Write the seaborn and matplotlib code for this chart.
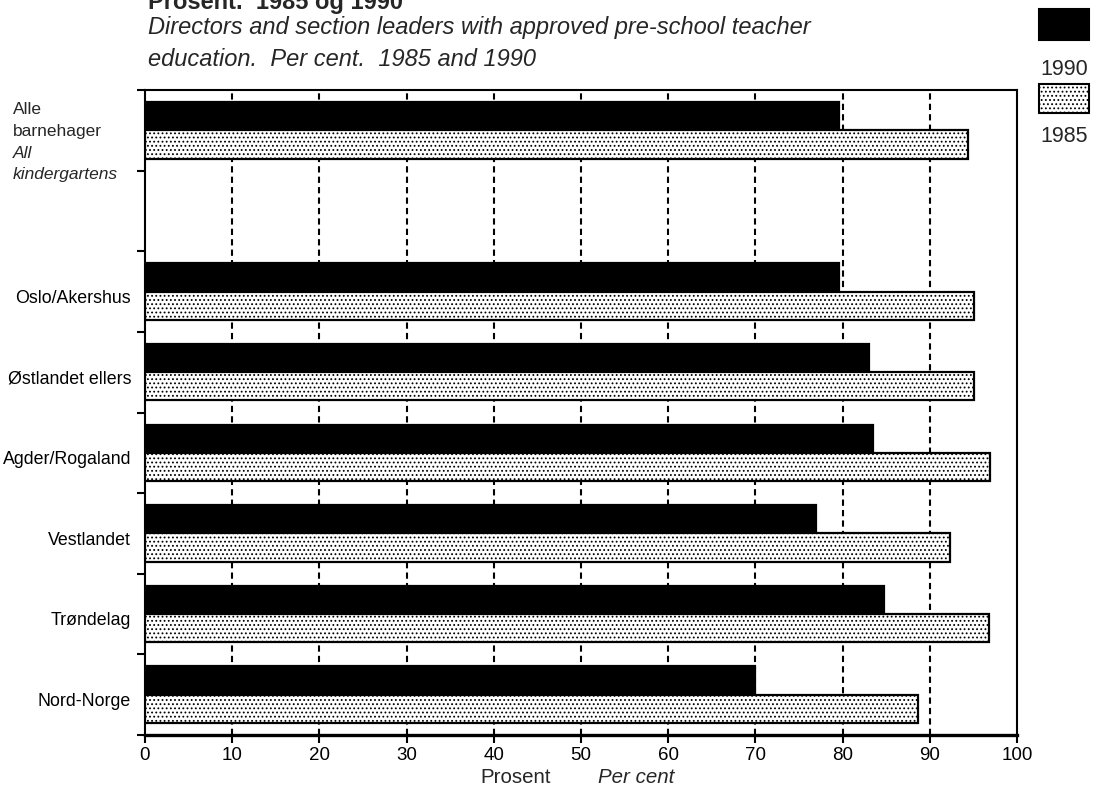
import matplotlib
matplotlib.use('Agg')
import matplotlib.pyplot as plt
from matplotlib import font_manager
from matplotlib.patches import Rectangle
import numpy as np
import pandas as pd
import seaborn as sns

# ---- data ----
categories = ['Alle barnehager', ' ', 'Oslo/Akershus', 'Østlandet ellers',
              'Agder/Rogaland', 'Vestlandet', 'Trøndelag', 'Nord-Norge']
data_categories = ['Alle barnehager', 'Oslo/Akershus', 'Østlandet ellers',
                   'Agder/Rogaland', 'Vestlandet', 'Trøndelag', 'Nord-Norge']
values_1990 = [79.6, 79.6, 83.0, 83.5, 77.0, 84.8, 70.0]
values_1985 = [94.4, 95.1, 95.1, 96.9, 92.3, 96.8, 88.7]
years = ['1990', '1985']
xticks = [0, 10, 20, 30, 40, 50, 60, 70, 80, 90, 100]
ytick_labels = ['', '', 'Oslo/Akershus', 'Østlandet ellers', 'Agder/Rogaland',
                'Vestlandet', 'Trøndelag', 'Nord-Norge']

df = pd.DataFrame({
    'region': data_categories * 2,
    'year': ['1990'] * len(values_1990) + ['1985'] * len(values_1985),
    'value': values_1990 + values_1985,
})

# ---- fonts ----
names = {f.name for f in font_manager.fontManager.ttflist}
narrow = 'Liberation Sans Narrow' in names
FAM = 'Liberation Sans Narrow' if narrow else 'Liberation Sans'
k = 1.22 if narrow else 1.0

sns.set_theme(style='white')
plt.rcParams['font.family'] = [FAM, 'DejaVu Sans']
plt.rcParams['hatch.linewidth'] = 0.8
plt.rcParams['hatch.color'] = 'black'

W, H = 1106, 793
fig = plt.figure(figsize=(W / 100, H / 100), dpi=100)
ax = fig.add_axes([145 / W, 1 - 735 / H, (1017 - 145) / W, (735 - 90) / H])

sns.barplot(data=df, y='region', x='value', hue='year', order=categories,
            hue_order=years, orient='h', width=0.7, ax=ax,
            palette={'1990': 'black', '1985': 'white'},
            edgecolor='black', linewidth=1.6, saturation=1, legend=False,
            zorder=3)

# dotted fill for 1985 bars
for bar in ax.containers[1]:
    bar.set_hatch('....')
    bar.set_facecolor('white')

ax.set_xlim(0, 100)
ax.set_ylim(len(categories) - 0.5, -0.5)
ax.set_xlabel('')
ax.set_ylabel('')

# dashed vertical grid
for xv in xticks[1:-1]:
    ax.axvline(xv, color='black', lw=1.5, linestyle=(0, (3, 2)), zorder=1)

for s in ['left', 'right', 'top']:
    ax.spines[s].set_color('black')
    ax.spines[s].set_linewidth(1.5)
ax.spines['bottom'].set_color('black')
ax.spines['bottom'].set_linewidth(2.4)

ax.set_xticks(xticks)
ax.set_xticklabels([str(t) for t in xticks], fontsize=13.5 * k)
ax.tick_params(axis='x', direction='out', length=6, width=1.5, color='black',
               bottom=True, pad=3, labelcolor='black')

ax.set_yticks(np.arange(-0.5, len(categories), 1.0))
ax.set_yticklabels([])
ax.tick_params(axis='y', which='major', direction='out', length=6, width=1.5,
               color='black', left=True)
ax.set_yticks(np.arange(len(categories)) + 0.06, minor=True)
ax.set_yticklabels(ytick_labels, minor=True, fontsize=12.8 * k)
ax.tick_params(axis='y', which='minor', length=0, pad=10, labelcolor='black')

# multi-line label for first category
fx = 13 / W
fs_alle = 12.5 * k
fig.text(fx, 1 - 114 / H, 'Alle', fontsize=fs_alle, va='baseline')
fig.text(fx, 1 - 136 / H, 'barnehager', fontsize=fs_alle, va='baseline')
fig.text(fx, 1 - 158 / H, 'All', fontsize=fs_alle, va='baseline', style='italic')
fig.text(fx, 1 - 179 / H, 'kindergartens', fontsize=fs_alle, va='baseline', style='italic')

# titles
fig.text(148 / W, 1 - 9 / H, 'Prosent.  1985 og 1990', fontsize=17 * k,
         fontweight='bold', va='baseline')
fig.text(148 / W, 1 - 34 / H,
         'Directors and section leaders with approved pre-school teacher',
         fontsize=17 * k, style='italic', va='baseline')
fig.text(148 / W, 1 - 66 / H, 'education.  Per cent.  1985 and 1990',
         fontsize=17 * k, style='italic', va='baseline')

# axis label
fig.text(516 / W, 1 - 783 / H, 'Prosent', fontsize=14.8 * k, ha='center', va='baseline')
fig.text(636 / W, 1 - 783 / H, 'Per cent', fontsize=14.8 * k, ha='center', va='baseline',
         style='italic')

# legend
fig.patches.append(Rectangle((1039 / W, 1 - 40 / H), 50 / W, 31 / H,
                             transform=fig.transFigure, facecolor='black',
                             edgecolor='black', lw=1.5))
fig.text(1064 / W, 1 - 75 / H, '1990', fontsize=15.5 * k, ha='center', va='baseline')
fig.patches.append(Rectangle((1039 / W, 1 - 113 / H), 50 / W, 29 / H,
                             transform=fig.transFigure, facecolor='white',
                             edgecolor='black', lw=1.5, hatch='....'))
fig.text(1064 / W, 1 - 142 / H, '1985', fontsize=15.5 * k, ha='center', va='baseline')

fig.savefig('out.png', dpi=100, facecolor='white')
